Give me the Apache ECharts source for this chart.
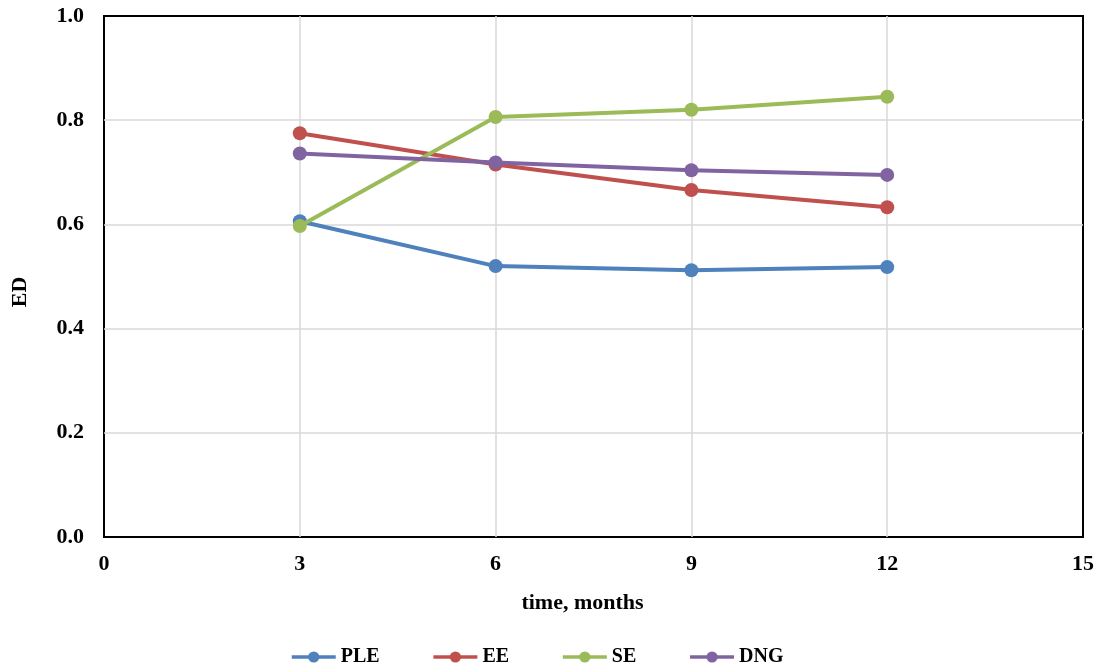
<!DOCTYPE html>
<html>
<head>
<meta charset="utf-8">
<script src="https://cdn.jsdelivr.net/npm/echarts@6/dist/echarts.min.js"></script>
<style>html,body{margin:0;padding:0;background:#fff;}#c{width:1103px;height:672px;}</style>
</head>
<body>
<div id="c"></div>
<script>
const months = [3, 6, 9, 12];
const PLE = [0.606, 0.520, 0.512, 0.518];
const EE  = [0.775, 0.715, 0.666, 0.633];
const SE  = [0.597, 0.806, 0.820, 0.845];
const DNG = [0.736, 0.719, 0.704, 0.695];
const seriesNames = ['PLE', 'EE', 'SE', 'DNG'];
const colors = ['#4F81BD', '#C0504D', '#9BBB59', '#8064A2'];

const font = 'Liberation Serif';
const fs = 22;
const chart = echarts.init(document.getElementById('c'));
const data = [PLE, EE, SE, DNG];
chart.setOption({
  animation: false,
  grid: { left: 104, right: 20, top: 16, bottom: 135, show: true, borderColor: '#000', borderWidth: 2, backgroundColor: 'transparent' },
  graphic: [{
    type: 'text', x: 20, y: 292, rotation: Math.PI / 2,
    style: { text: 'ED', font: 'bold ' + fs + 'px "' + font + '"', fill: '#000', align: 'center', verticalAlign: 'middle' }
  }],
  legend: {
    bottom: 0, left: 285, itemWidth: 44, itemHeight: 14, itemGap: 52,
    lineStyle: { width: 3.5 },
    textStyle: { fontFamily: font, fontWeight: 'bold', fontSize: 20, color: '#000' },
    data: seriesNames
  },
  xAxis: {
    type: 'value', min: 0, max: 15, interval: 3,
    name: 'time, months', nameLocation: 'middle', nameGap: 55,
    nameTextStyle: { fontFamily: font, fontWeight: 'bold', fontSize: fs, color: '#000', padding: [0, 22, 0, 0] },
    axisLine: { show: false }, axisTick: { show: false },
    axisLabel: { fontFamily: font, fontWeight: 'bold', fontSize: fs, color: '#000', margin: 16 },
    splitLine: { show: true, showMinLine: false, showMaxLine: false, lineStyle: { color: '#d9d9d9', width: 1.5 } }
  },
  yAxis: {
    type: 'value', min: 0, max: 1, interval: 0.2,
    axisLine: { show: false }, axisTick: { show: false },
    axisLabel: { fontFamily: font, fontWeight: 'bold', fontSize: fs, color: '#000', margin: 20, formatter: v => v.toFixed(1) },
    splitLine: { show: true, showMinLine: false, showMaxLine: false, lineStyle: { color: '#d9d9d9', width: 1.5 } }
  },
  series: seriesNames.map((n, i) => ({
    name: n, type: 'line',
    data: months.map((m, j) => [m, data[i][j]]),
    symbol: 'circle', symbolSize: 14,
    lineStyle: { color: colors[i], width: 4 },
    itemStyle: { color: colors[i] },
    z: 2 + i
  }))
});
</script>
</body>
</html>
